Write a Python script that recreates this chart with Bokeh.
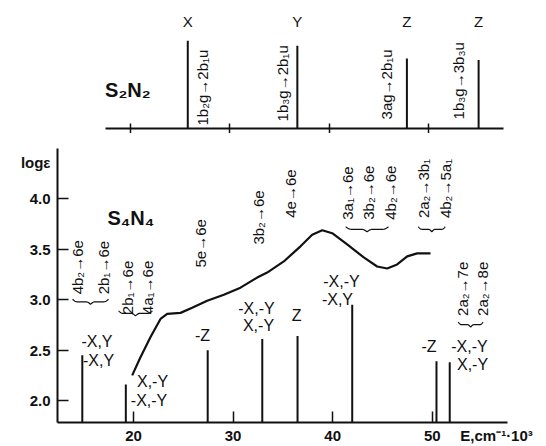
import numpy as np
from bokeh.plotting import figure
from bokeh.models import Range1d, FixedTicker
from bokeh.layouts import column
from bokeh.embed import file_html
from bokeh.resources import INLINE
from bokeh.core.properties import value

# ---------------- data ----------------
x_ticks = [20, 30, 40, 50]
y_ticks = [2.0, 2.5, 3.0, 3.5, 4.0]
x_title = "E,cm⁻¹·10³"
y_title = "logε"

# S2N2 (upper panel): calculated transitions
s2n2_energy = [25.8, 36.8, 47.8, 55.0]
s2n2_intensity = [0.87, 0.82, 0.695, 0.68]
s2n2_polar = ["X", "Y", "Z", "Z"]
s2n2_assign = ["1b₂g→2b₁u", "1b₃g→2b₁u", "3ag→2b₁u", "1b₃g→3b₃u"]

# S4N4 measured spectrum (E in 10^3 cm^-1, log eps)
curve_energy = [19.87, 20.7, 21.71, 22.71, 23.38, 24.72, 25.89, 27.4, 29.07,
                30.74, 32.42, 33.42, 35.09, 36.77, 37.94, 38.95, 39.95, 41.45,
                43.12, 44.46, 45.47, 46.47, 47.48, 48.48, 49.82]
curve_logeps = [2.25, 2.43, 2.63, 2.81, 2.86, 2.87, 2.92, 2.99, 3.05,
                3.12, 3.22, 3.27, 3.38, 3.53, 3.645, 3.69, 3.66, 3.55,
                3.42, 3.33, 3.31, 3.35, 3.43, 3.46, 3.46]

# S4N4 calculated transitions
stick_energy = [14.86, 19.23, 27.45, 32.93, 36.47, 41.96, 50.42, 51.75]
stick_logeps = [2.45, 2.16, 2.50, 2.61, 2.64, 2.95, 2.39, 2.38]

# polarisation labels of the S4N4 transitions
pol_text = ["-X,Y", "-X,Y", "X,-Y", "-X,-Y", "-Z", "-X,-Y", "X,-Y", "Z",
            "-X,-Y", "-X,Y", "-Z", "-X,-Y", "X,-Y"]
# orbital assignments of the S4N4 transitions
assign_text = ["4b₂→6e", "2b₁→6e", "2b₁→6e", "4a₁→6e", "5e→6e", "3b₂→6e",
               "4e→6e", "3a₁→6e", "3b₂→6e", "4b₂→6e", "2a₂→3b₁", "4b₂→5a₁",
               "2a₂→7e", "2a₂→8e"]

# ---------------- annotation layout ----------------
pol_x = [16.33, 16.49, 21.91, 21.56, 26.93, 32.35, 32.55, 36.37, 40.88, 40.48,
         49.67, 53.73, 54.04]
pol_y = [2.591, 2.40, 2.187, 2.0, 2.65, 2.916, 2.743, 2.847, 3.185, 3.005,
         2.54, 2.54, 2.36]
assign_x = [14.38, 16.96, 19.37, 21.38, 26.73, 32.55, 35.81, 41.46, 43.6, 45.8,
            49.12, 51.33, 53.0, 55.0]
assign_y = [3.054, 3.054, 2.857, 2.857, 3.32, 3.547, 3.813, 3.793, 3.793, 3.793,
            3.81, 3.81, 2.84, 2.84]
brace_groups = [(13.88, 17.49, 3.005), (18.5, 21.9, 2.89), (41.3, 45.6, 3.724),
                (48.6, 51.3, 3.724), (52.6, 55.1, 2.778)]
x_title_pos = 56.45   # where the E-axis title sits along the axis
y_title_pos = 4.36    # where the log(eps) title sits along the axis

FONT = "Liberation Sans"
NARROW = "Liberation Sans Narrow, Liberation Sans, sans-serif"
INK = "#111111"

W = 546
HT = 133
HB = 313
LEFT, RIGHT = 57, 39

# ---------------- upper panel (S2N2) ----------------
top = figure(width=W, height=HT, x_range=Range1d(12.72, 57.9), y_range=Range1d(0, 1.27),
             output_backend="svg", toolbar_location=None,
             min_border_left=LEFT, min_border_right=RIGHT, min_border_top=0,
             min_border_bottom=0, outline_line_color=None,
             background_fill_color="white", border_fill_color="white")
top.yaxis.visible = False
top.xgrid.visible = False
top.ygrid.visible = False
tax = top.xaxis[0]
tax.ticker = FixedTicker(ticks=x_ticks)
tax.bounds = (17.49, 57.5)
tax.major_tick_in = 5
tax.major_tick_out = 5
tax.minor_tick_line_color = None
tax.axis_line_width = 2
tax.axis_line_color = INK
tax.major_tick_line_color = INK
tax.major_tick_line_width = 1.5
tax.major_label_overrides = {t: "" for t in x_ticks}
tax.major_label_text_font_size = "1px"
tax.major_label_standoff = 0

top.segment(x0=s2n2_energy, y0=[0] * len(s2n2_energy), x1=s2n2_energy, y1=s2n2_intensity,
            line_color=INK, line_width=2)
top.text(x=s2n2_energy, y=[1.06] * 4, text=s2n2_polar, text_align="center",
         text_baseline="middle", text_font=value(FONT), text_font_size="15px", text_color=INK)
top_assign_x = [27.28, 35.3, 45.8, 52.98]
top_assign_y = [0.03, 0.07, 0.09, 0.09]
top.text(x=top_assign_x, y=top_assign_y, text=s2n2_assign, angle=np.pi / 2,
         text_align="left", text_baseline="middle", text_font=value(FONT),
         text_font_size="15px", text_color=INK)
top.text(x=[17.5], y=[0.38], text=["S₂N₂"], text_align="left", text_baseline="middle",
         text_font=value(FONT), text_font_size="20px", text_font_style="bold", text_color=INK)

# ---------------- lower panel (S4N4) ----------------
YMIN, YMAX = 1.783, 4.5
bot = figure(width=W, height=HB, x_range=Range1d(12.37, 57.55),
             y_range=Range1d(YMIN, YMAX),
             output_backend="svg", toolbar_location=None,
             min_border_left=LEFT, min_border_right=RIGHT, min_border_top=148 - HT,
             min_border_bottom=0, outline_line_color=None,
             background_fill_color="white", border_fill_color="white")
bot.xgrid.visible = False
bot.ygrid.visible = False
for ax, ticks, tpos, ttxt, fmt in ((bot.xaxis[0], x_ticks, x_title_pos, x_title, "{:.0f}"),
                                   (bot.yaxis[0], y_ticks, y_title_pos, y_title, "{:.1f}")):
    # tick marks drawn as (inward) minor ticks, labels on the major positions
    ax.ticker = FixedTicker(ticks=ticks + [tpos], minor_ticks=ticks)
    ax.major_tick_line_color = None
    ax.major_tick_in = 0
    ax.major_tick_out = 0
    ax.minor_tick_in = 11
    ax.minor_tick_out = 0
    ax.minor_tick_line_color = INK
    ax.minor_tick_line_width = 1.5
    ax.axis_line_width = 2
    ax.axis_line_color = INK
    ax.major_label_overrides = {**{t: fmt.format(t) for t in ticks}, tpos: ttxt}
    ax.major_label_text_font = FONT
    ax.major_label_text_font_style = "bold"
    ax.major_label_text_font_size = "15px"
    ax.major_label_text_color = INK
bot.yaxis[0].major_label_standoff = 7
bot.xaxis[0].major_label_standoff = 4

bot.segment(x0=stick_energy, y0=[YMIN] * len(stick_energy), x1=stick_energy, y1=stick_logeps,
            line_color=INK, line_width=2)
bot.line(curve_energy, curve_logeps, line_color=INK, line_width=2.2)

bot.text(x=pol_x, y=pol_y, text=pol_text, text_align="center", text_baseline="middle",
         text_font=value(NARROW), text_font_size="16px", text_color=INK)
bot.text(x=assign_x, y=assign_y, text=assign_text, angle=np.pi / 2, text_align="left",
         text_baseline="middle", text_font=value(FONT), text_font_size="15px", text_color=INK)

# curly braces grouping the assignments
bxs, bys = [], []
h = 0.05
for x0, x1, y0 in brace_groups:
    t = np.linspace(0, 1, 60)
    u = np.minimum(t, 1 - t) * 2
    g = 0.5 * np.sin(np.pi / 2 * np.minimum(u / 0.25, 1)) + \
        0.5 * (1 - np.cos(np.pi / 2 * np.maximum(0, (u - 0.75) / 0.25)))
    bxs.append(list(x0 + (x1 - x0) * t))
    bys.append(list(y0 - h * g))
bot.multi_line(bxs, bys, line_color=INK, line_width=1.2)

bot.text(x=[17.39], y=[3.81], text=["S₄N₄"], text_align="left", text_baseline="middle",
         text_font=value(FONT), text_font_size="20px", text_font_style="bold", text_color=INK)

layout = column(top, bot, spacing=0)
open("out.html", "w").write(file_html(layout, INLINE))
